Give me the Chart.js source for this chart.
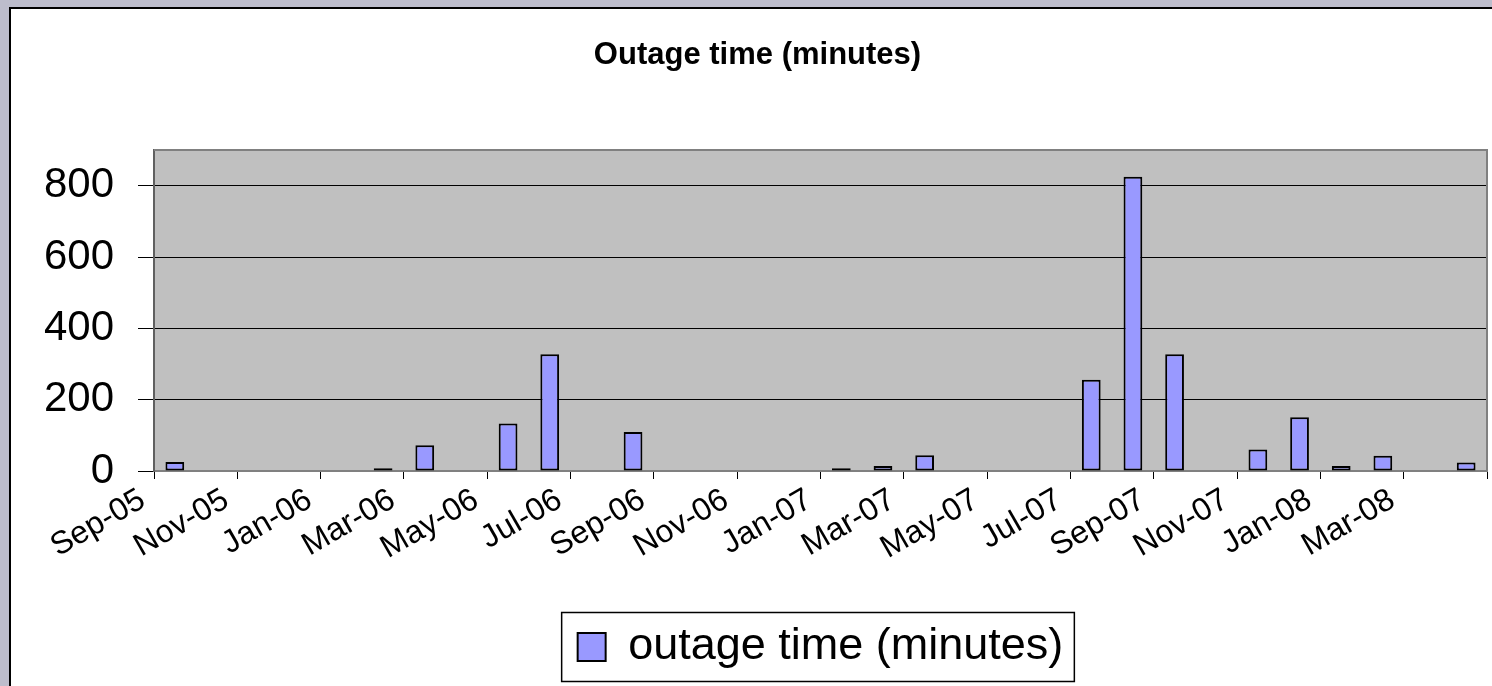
<!DOCTYPE html>
<html>
<head>
<meta charset="utf-8">
<title>Outage time (minutes)</title>
<script src="https://cdn.jsdelivr.net/npm/chart.js@4.4.1/dist/chart.umd.min.js"></script>
<style>
  html, body { margin: 0; padding: 0; overflow: hidden; background: #bdbdcc; }
  #frame {
    position: absolute; left: 9px; top: 7px;
    width: 1500px; height: 690px;
    background: #fff;
    border-left: 2px solid #000; border-top: 2px solid #000;
  }
  canvas { display: block; }
</style>
</head>
<body>
<div id="frame"><canvas id="outageChart" width="1500" height="690"></canvas></div>
<script>
const months = [
  'Sep-05', 'Oct-05', 'Nov-05', 'Dec-05', 'Jan-06', 'Feb-06', 'Mar-06', 'Apr-06',
  'May-06', 'Jun-06', 'Jul-06', 'Aug-06', 'Sep-06', 'Oct-06', 'Nov-06', 'Dec-06',
  'Jan-07', 'Feb-07', 'Mar-07', 'Apr-07', 'May-07', 'Jun-07', 'Jul-07', 'Aug-07',
  'Sep-07', 'Oct-07', 'Nov-07', 'Dec-07', 'Jan-08', 'Feb-08', 'Mar-08', 'Apr-08',
];

// blank months had no outage recorded
const outageMinutes = [
  25, null, null, null, null, 8, 72, null,
  133, 327, null, 109, null, null, null, null,
  8, 14, 44, null, null, null, 256, 825,
  327, null, 60, 151, 14, 43, null, 24,
];

const yTicks = [0, 200, 400, 600, 800];

const fontFamily = "'Liberation Sans', Arial, sans-serif";

// grey plot area, its frame, and the box round the legend
const plotFrame = {
  id: 'plotFrame',
  beforeDraw(chart) {
    const { ctx, chartArea: a } = chart;
    ctx.save();
    ctx.fillStyle = '#c0c0c0';
    ctx.fillRect(a.left, a.top, a.right - a.left, a.bottom - a.top);
    ctx.restore();
  },
  afterDraw(chart) {
    const { ctx, chartArea: a } = chart;
    ctx.save();
    ctx.strokeStyle = '#808080';
    ctx.lineWidth = 2;
    ctx.beginPath();
    ctx.moveTo(a.left, a.top);
    ctx.lineTo(a.right, a.top);
    ctx.lineTo(a.right, a.bottom);
    ctx.stroke();

    const hit = chart.legend && chart.legend.legendHitBoxes && chart.legend.legendHitBoxes[0];
    if (hit) {
      ctx.strokeStyle = '#000';
      ctx.lineWidth = 1.5;
      ctx.strokeRect(hit.left - 16, hit.top - 12, hit.width + 27, hit.height + 24);
    }
    ctx.restore();
  },
};

new Chart(document.getElementById('outageChart'), {
  type: 'bar',
  data: {
    labels: months,
    datasets: [{
      label: 'outage time (minutes)',
      data: outageMinutes,
      backgroundColor: '#9999ff',
      borderColor: '#000',
      borderWidth: 2,
      borderSkipped: false,
      barPercentage: 0.45,
      categoryPercentage: 1,
    }],
  },
  options: {
    responsive: false,
    animation: false,
    layout: { padding: { left: 17, right: 24, top: 0, bottom: 19.5 } },
    plugins: {
      title: {
        display: true,
        text: 'Outage time (minutes)',
        color: '#000',
        font: { family: fontFamily, size: 31, weight: 'bold' },
        padding: { top: 28, bottom: 75.8 },
      },
      legend: {
        position: 'bottom',
        fullSize: false,
        labels: {
          color: '#000',
          font: { family: fontFamily, size: 45 },
          boxWidth: 28,
          boxHeight: 28,
          padding: 10,
        },
      },
      tooltip: { enabled: false },
    },
    scales: {
      x: {
        afterFit: (scale) => { scale.height = 143.5; },
        grid: {
          offset: true,
          drawOnChartArea: false,
          tickLength: 8,
          color: (ctx) => (ctx.index === undefined || ctx.index % 2 === 0 ? '#000' : 'rgba(0,0,0,0)'),
        },
        border: { color: '#808080', width: 2 },
        ticks: {
          autoSkip: false,
          minRotation: 30,
          maxRotation: 30,
          labelOffset: -32,
          padding: 2,
          color: '#000',
          font: { family: fontFamily, size: 32 },
          callback: (value, index) => (index % 2 === 0 ? months[index] : ''),
        },
      },
      y: {
        min: 0,
        max: 900,
        afterFit: (scale) => { scale.width = 126; },
        afterBuildTicks: (scale) => {
          scale.ticks = yTicks.map((value) => ({ value }));
        },
        grid: { color: '#000', lineWidth: 1, tickLength: 16 },
        border: { color: '#606060', width: 2 },
        ticks: {
          padding: 24,
          color: '#000',
          font: { family: fontFamily, size: 42 },
        },
      },
    },
  },
  plugins: [plotFrame],
});
</script>
</body>
</html>
